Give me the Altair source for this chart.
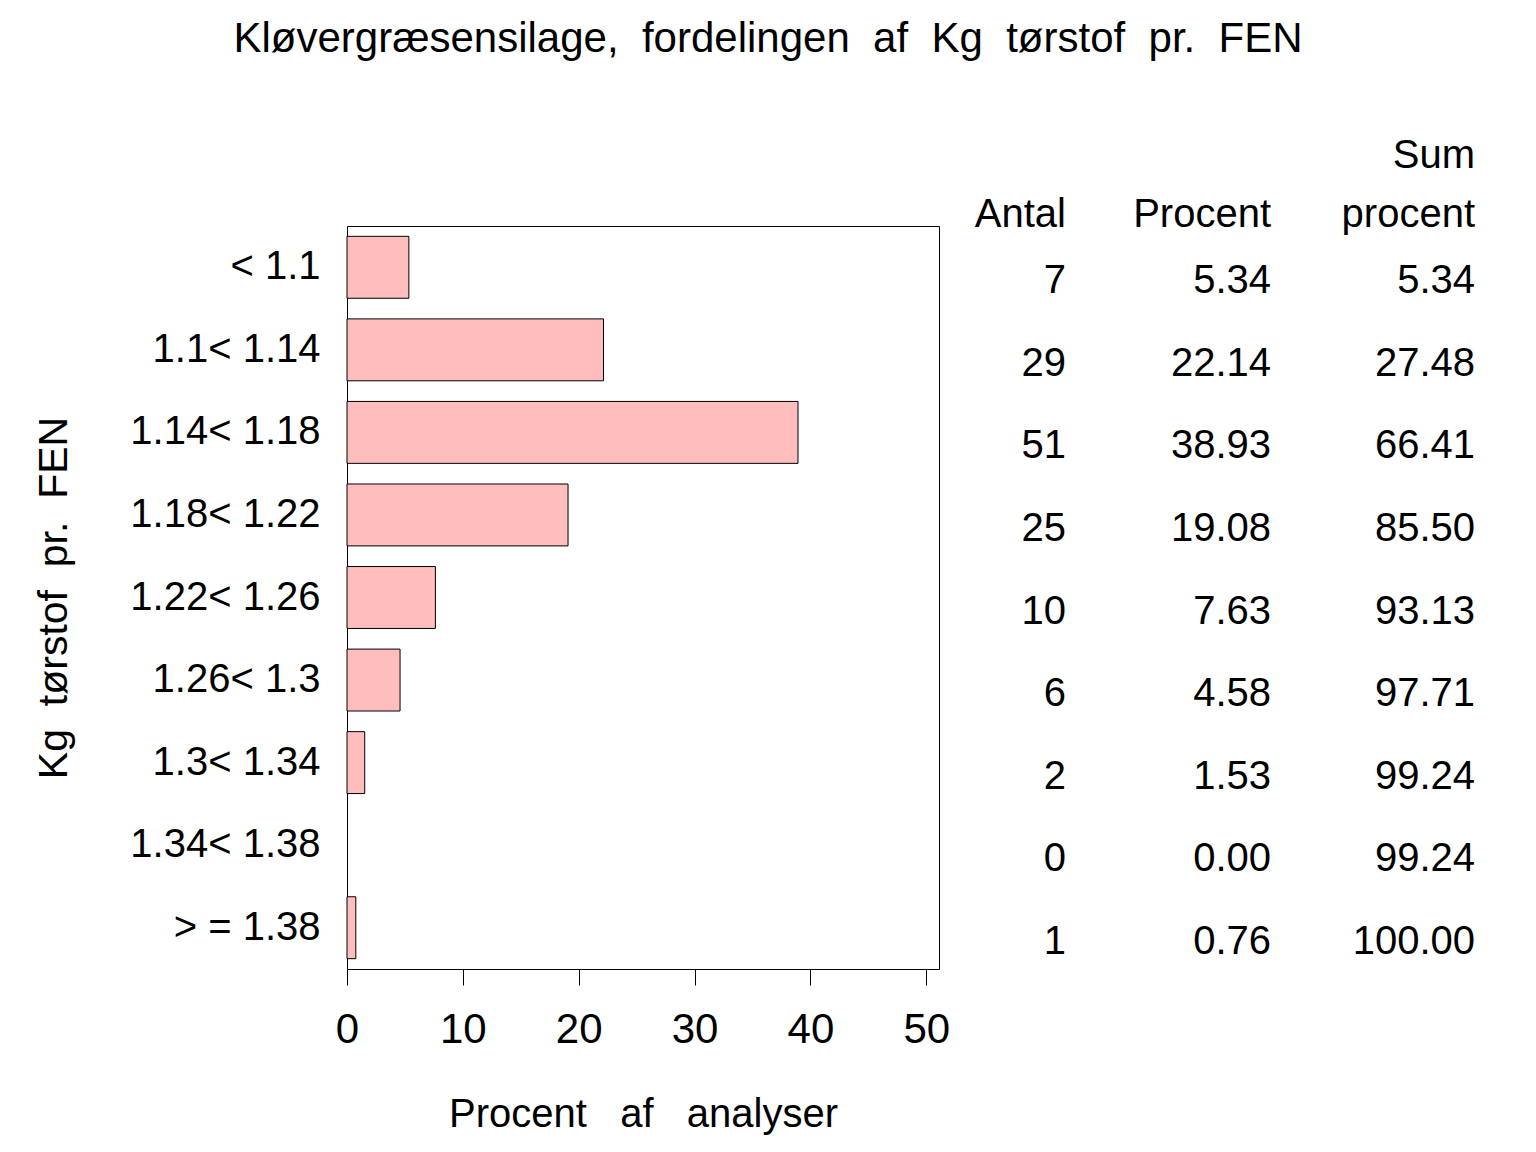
import altair as alt
import pandas as pd

categories = ["< 1.1", "1.1< 1.14", "1.14< 1.18", "1.18< 1.22", "1.22< 1.26",
              "1.26< 1.3", "1.3< 1.34", "1.34< 1.38", "> = 1.38"]
antal = [7, 29, 51, 25, 10, 6, 2, 0, 1]
procent = [5.34, 22.14, 38.93, 19.08, 7.63, 4.58, 1.53, 0.00, 0.76]
sum_procent = [5.34, 27.48, 66.41, 85.50, 93.13, 97.71, 99.24, 99.24, 100.00]
x_ticks = [0, 10, 20, 30, 40, 50]

NB = "\u00a0"
title_text = f"Kløvergræsensilage,{NB} fordelingen{NB} af{NB} Kg{NB} tørstof{NB} pr.{NB} FEN"
x_title = f"Procent{NB} {NB}af{NB} {NB}analyser"
y_title = f"Kg{NB} tørstof{NB} pr.{NB} FEN"

df = pd.DataFrame({
    "cat": categories,
    "antal": [str(a) for a in antal],
    "procent": procent,
    "procent_txt": [f"{p:.2f}" for p in procent],
    "sum_txt": [f"{s:.2f}" for s in sum_procent],
})

FONT = "Liberation Sans"
FS = 40

y_enc = alt.Y("cat:N", sort=categories,
              scale=alt.Scale(paddingInner=0.25, paddingOuter=0.125),
              axis=alt.Axis(title=y_title, ticks=False, domain=False,
                            labelFontSize=FS, labelPadding=27, labelColor="black",
                            labelLimit=0,
                            titleFontSize=41, titleFontWeight="normal", titleColor="black",
                            titleX=-281, titleBaseline="alphabetic"))

bars = alt.Chart(df).mark_bar(fill="#ffbdbd", strokeWidth=1).encode(
    x=alt.X("procent:Q",
            scale=alt.Scale(domain=[0, 51.1], nice=False, zero=True),
            axis=alt.Axis(title=x_title, values=x_ticks, grid=False,
                          domain=False, tickSize=16, tickColor="black", tickWidth=1,
                          labelFontSize=42, labelPadding=24, labelColor="black",
                          labelFlush=False,
                          titleFontSize=FS, titleFontWeight="normal", titleColor="black",
                          titleY=157, titleBaseline="alphabetic")),
    y=y_enc,
    stroke=alt.condition(alt.datum.procent > 0, alt.value("black"), alt.value("transparent")),
)

def col(field, xpx):
    return alt.Chart(df).mark_text(align="right", baseline="middle", dy=14,
                                   fontSize=FS, font=FONT, color="black").encode(
        x=alt.value(xpx), y=alt.Y("cat:N", sort=categories), text=f"{field}:N")

def label(txt, xpx, ypx, align="right", size=FS):
    return alt.Chart(pd.DataFrame({"h": [txt]})).mark_text(
        align=align, baseline="alphabetic", fontSize=size, font=FONT, color="black"
    ).encode(x=alt.value(xpx), y=alt.value(ypx), text="h:N")

chart = alt.layer(
    bars,
    col("antal", 719), col("procent_txt", 924), col("sum_txt", 1128),
    label("Antal", 719, 1), label("Procent", 924, 1),
    label("procent", 1128, 1), label("Sum", 1128, -58),
    label(title_text, 421, -174, align="center", size=42),
).properties(
    width=592, height=743,
    padding={"left": 339, "top": 218, "right": 589, "bottom": 175},
    autosize=alt.AutoSizeParams(type="none"),
).configure(font=FONT).configure_view(stroke="black", strokeWidth=1)

chart.save("out.html", embed_options={"renderer": "svg", "actions": False})
